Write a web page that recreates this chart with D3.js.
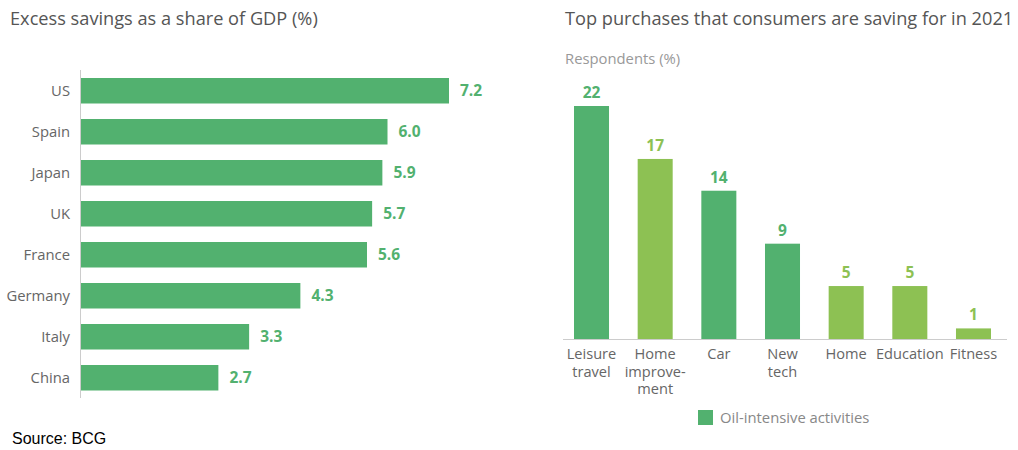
<!DOCTYPE html>
<html><head><meta charset="utf-8">
<script src="https://cdn.jsdelivr.net/npm/d3@7"></script>
<style>body{margin:0;background:#fff}svg{display:block}</style>
</head><body>
<script>
const countries = ["US","Spain","Japan","UK","France","Germany","Italy","China"];
const savings = [7.2,6.0,5.9,5.7,5.6,4.3,3.3,2.7];
const purchases = [["Leisure","travel"],["Home","improve-","ment"],["Car"],["New","tech"],["Home"],["Education"],["Fitness"]];
const respondents = [22,17,14,9,5,5,1];
const oilIntensive = [true,false,true,true,false,false,false];
const legendLabel = "Oil-intensive activities";

const DARK = "#52b16f", LIGHT = "#8dc153";
const FONT = "'Open Sans', sans-serif";
const svg = d3.select("body").append("svg").attr("width",1018).attr("height",450);

// Left chart
svg.append("text").attr("x",10).attr("y",25).attr("font-family",FONT).attr("font-size",18.2)
  .attr("fill","#555").text("Excess savings as a share of GDP (%)");
const x1 = d3.scaleLinear().domain([0,7.2]).range([80,449]);
const y1 = d3.scaleBand().domain(countries).range([69.8,398.7]).paddingInner(0.378).paddingOuter(0.2);
const g1 = svg.append("g");
g1.selectAll("rect").data(countries).join("rect")
  .attr("x",x1(0)).attr("y",d=>y1(d)).attr("width",(d,i)=>x1(savings[i])-x1(0)).attr("height",y1.bandwidth())
  .attr("fill",DARK);
g1.append("line").attr("x1",80.5).attr("x2",80.5).attr("y1",70).attr("y2",398).attr("stroke","#ccc");
g1.selectAll("text.cat").data(countries).join("text").attr("class","cat")
  .attr("x",70).attr("y",d=>y1(d)+y1.bandwidth()/2).attr("dy","0.36em").attr("text-anchor","end")
  .attr("font-family",FONT).attr("font-size",14.8).attr("fill","#666").text(d=>d);
g1.selectAll("text.val").data(countries).join("text").attr("class","val")
  .attr("x",(d,i)=>x1(savings[i])+11).attr("y",d=>y1(d)+y1.bandwidth()/2).attr("dy","0.36em")
  .attr("font-family",FONT).attr("font-size",15.5).attr("font-weight","bold").attr("fill",DARK)
  .text((d,i)=>savings[i].toFixed(1));

// Right chart
svg.append("text").attr("x",565).attr("y",25).attr("font-family",FONT).attr("font-size",18.2)
  .attr("fill","#555").text("Top purchases that consumers are saving for in 2021");
svg.append("text").attr("x",565).attr("y",64).attr("font-family",FONT).attr("font-size",14.8)
  .attr("fill","#999").text("Respondents (%)");
const idx = d3.range(purchases.length);
const x2 = d3.scaleBand().domain(idx).range([560,1005]).paddingInner(0.45).paddingOuter(0.22);
const y2 = d3.scaleLinear().domain([0,22]).range([339,106]);
const g2 = svg.append("g");
g2.selectAll("rect").data(idx).join("rect")
  .attr("x",i=>x2(i)).attr("y",i=>y2(respondents[i])).attr("width",x2.bandwidth())
  .attr("height",i=>y2(0)-y2(respondents[i])).attr("fill",i=>oilIntensive[i]?DARK:LIGHT);
g2.append("line").attr("x1",563).attr("x2",1007).attr("y1",339.5).attr("y2",339.5).attr("stroke","#ccc");
g2.selectAll("text.val").data(idx).join("text").attr("class","val")
  .attr("x",i=>x2(i)+x2.bandwidth()/2).attr("y",i=>y2(respondents[i])-8).attr("text-anchor","middle")
  .attr("font-family",FONT).attr("font-size",15.5).attr("font-weight","bold")
  .attr("fill",i=>oilIntensive[i]?DARK:LIGHT).text(i=>respondents[i]);
const lab = g2.selectAll("text.cat").data(idx).join("text").attr("class","cat")
  .attr("text-anchor","middle").attr("font-family",FONT).attr("font-size",14.6).attr("fill","#666");
lab.each(function(i){
  const t = d3.select(this);
  purchases[i].forEach((line,k)=>{
    t.append("tspan").attr("x",x2(i)+x2.bandwidth()/2).attr("y",359+k*17.5).text(line);
  });
});
// legend
svg.append("rect").attr("x",698).attr("y",410).attr("width",15).attr("height",15).attr("fill",DARK);
svg.append("text").attr("x",720).attr("y",423).attr("font-family",FONT).attr("font-size",14.8)
  .attr("fill","#888").text(legendLabel);

svg.append("text").attr("x",12).attr("y",444).attr("font-family","'Liberation Sans', Arial, sans-serif")
  .attr("font-size",16).attr("fill","#000").text("Source: BCG");
</script>
</body></html>
